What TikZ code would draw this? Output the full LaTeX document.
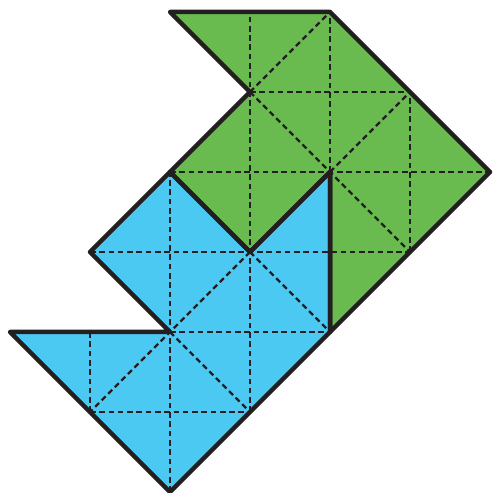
\documentclass[tikz,border=0pt]{standalone}
\definecolor{pgreen}{RGB}{106,187,79}
\definecolor{pblue}{RGB}{76,201,242}
\definecolor{pline}{RGB}{35,31,32}
\tikzset{
  outline/.style={draw=pline, line width=1.6pt, line join=round, line cap=round},
  gridline/.style={draw=pline, line width=0.8pt, dash pattern=on 2pt off 1.3pt},
}
\begin{document}
\begin{tikzpicture}[x=1cm,y=1cm]
\useasboundingbox (-0.125,-0.0125) rectangle (6.025,6.15);
% fills
\fill[pgreen] (2,6) -- (4,6) -- (6,4) -- (4,2) -- (4,4) -- (3,3) -- (2,4) -- (3,5) -- cycle;
\fill[pblue] (2,4) -- (3,3) -- (4,4) -- (4,2) -- (2,0) -- (0,2) -- (2,2) -- (1,3) -- cycle;
% dashed grid
\draw[gridline] (3,1) -- (3,6);
\draw[gridline] (4,4) -- (4,6);
\draw[gridline] (5,3) -- (5,5);
\draw[gridline] (2,0) -- (2,4);
\draw[gridline] (1,1) -- (1,2);
\draw[gridline] (3,5) -- (5,5);
\draw[gridline] (2,4) -- (6,4);
\draw[gridline] (1,3) -- (5,3);
\draw[gridline] (2,2) -- (4,2);
\draw[gridline] (1,1) -- (3,1);
% dashed diagonals
\draw[gridline] (3,5) -- (4,6);
\draw[gridline] (3,5) -- (5,3);
\draw[gridline] (4,4) -- (5,5);
\draw[gridline] (3,3) -- (4,2);
\draw[gridline] (3,3) -- (1,1);
\draw[gridline] (2,2) -- (3,1);
% outlines
\draw[outline] (2,6) -- (4,6) -- (6,4) -- (4,2) -- (4,4) -- (3,3) -- (2,4) -- (3,5) -- cycle;
\draw[outline] (2,4) -- (3,3) -- (4,4) -- (4,2) -- (2,0) -- (0,2) -- (2,2) -- (1,3) -- cycle;
\end{tikzpicture}
\end{document}
